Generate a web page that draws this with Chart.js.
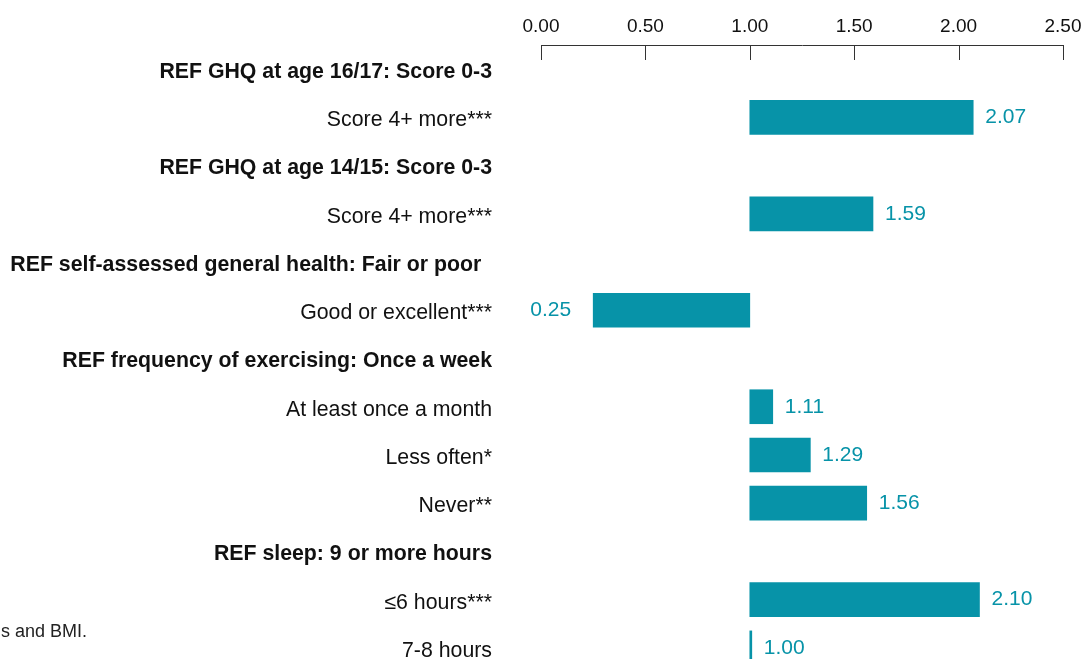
<!DOCTYPE html>
<html>
<head>
<meta charset="utf-8">
<script src="https://cdn.jsdelivr.net/npm/chart.js@4"></script>
<style>
  html, body { margin: 0; padding: 0; overflow: hidden; background: #fff; }
  #wrap { position: relative; width: 1087px; height: 672px; }
  #c { display: block; }
  #note { position: absolute; left: 1px; top: 620px; font: 18px "Liberation Sans", Arial, sans-serif; line-height: 22px; color: #222; white-space: nowrap; }
</style>
</head>
<body>
<div id="wrap">
  <canvas id="c" width="1087" height="672"></canvas>
  <div id="note">s and BMI.</div>
</div>
<script>
const categories = [
  "REF GHQ at age 16/17: Score 0-3",
  "Score 4+ more***",
  "REF GHQ at age 14/15: Score 0-3",
  "Score 4+ more***",
  "REF self-assessed general health: Fair or poor\u2002",
  "Good or excellent***",
  "REF frequency of exercising: Once a week",
  "At least once a month",
  "Less often*",
  "Never**",
  "REF sleep: 9 or more hours",
  "\u22646 hours***",
  "7-8 hours"
];
const isReference = [true, false, true, false, true, false, true, false, false, false, true, false, false];
const oddsRatios = [null, 2.07, null, 1.59, null, 0.25, null, 1.11, 1.29, 1.56, null, 2.10, 1.00];
const baseline = 1.00;
const axisTicks = [0.00, 0.50, 1.00, 1.50, 2.00, 2.50];

const TEAL = '#0793a8';
const FONT = '"Liberation Sans", Arial, Helvetica, sans-serif';

const tickMarks = {
  id: 'tickMarks',
  afterDraw(chart) {
    const sx = chart.scales.x;
    const ctx = chart.ctx;
    ctx.save();
    ctx.strokeStyle = '#333';
    ctx.lineWidth = 1;
    sx.ticks.forEach((t, i) => {
      const px = Math.round(sx.getPixelForTick(i)) + 0.5;
      ctx.beginPath();
      ctx.moveTo(px, sx.bottom);
      ctx.lineTo(px, sx.bottom + 15);
      ctx.stroke();
    });
    ctx.restore();
  }
};

const valueLabels = {
  id: 'valueLabels',
  afterDatasetsDraw(chart) {
    const meta = chart.getDatasetMeta(0);
    const ctx = chart.ctx;
    ctx.save();
    ctx.font = '21px ' + FONT;
    ctx.fillStyle = TEAL;
    ctx.textBaseline = 'middle';
    meta.data.forEach((el, i) => {
      const v = oddsRatios[i];
      if (v == null) return;
      const txt = v.toFixed(2);
      if (v >= baseline) {
        ctx.textAlign = 'left';
        ctx.fillText(txt, Math.max(el.x, el.base) + 12, el.y);
      } else {
        ctx.textAlign = 'right';
        ctx.fillText(txt, Math.min(el.x, el.base) - 22, el.y);
      }
    });
    ctx.restore();
  }
};

new Chart(document.getElementById('c'), {
  type: 'bar',
  data: {
    labels: categories,
    datasets: [{
      data: oddsRatios.map(v => v == null ? null : [baseline, v]),
      backgroundColor: TEAL,
      borderWidth: 0,
      barThickness: 34,
      minBarLength: 2
    }]
  },
  options: {
    indexAxis: 'y',
    responsive: false,
    animation: false,
    layout: { padding: { left: 0, right: 24, top: 0, bottom: 0 } },
    plugins: { legend: { display: false }, tooltip: { enabled: false } },
    scales: {
      x: {
        type: 'linear',
        position: 'top',
        min: axisTicks[0],
        max: axisTicks[axisTicks.length - 1],
        afterBuildTicks(scale) { scale.ticks = axisTicks.map(v => ({ value: v })); },
        afterFit(scale) { scale.height = 45; scale.paddingLeft = 0; scale.paddingRight = 0; },
        grid: { display: false, drawTicks: false },
        border: { display: true, color: '#333', width: 1 },
        ticks: {
          padding: 7,
          color: '#111',
          font: { family: FONT, size: 19 },
          callback: v => Number(v).toFixed(2),
          maxRotation: 0
        }
      },
      y: {
        type: 'category',
        afterFit(scale) { scale.width = 541; scale.paddingTop = 0; scale.paddingBottom = 0; },
        grid: { display: false, drawTicks: false },
        border: { display: false },
        ticks: {
          padding: 49,
          labelOffset: 3,
          color: '#111',
          autoSkip: false,
          font: ctx => ({ family: FONT, size: 21.3, weight: isReference[ctx.index] ? 'bold' : 'normal' })
        }
      }
    }
  },
  plugins: [tickMarks, valueLabels]
});
</script>
</body>
</html>
